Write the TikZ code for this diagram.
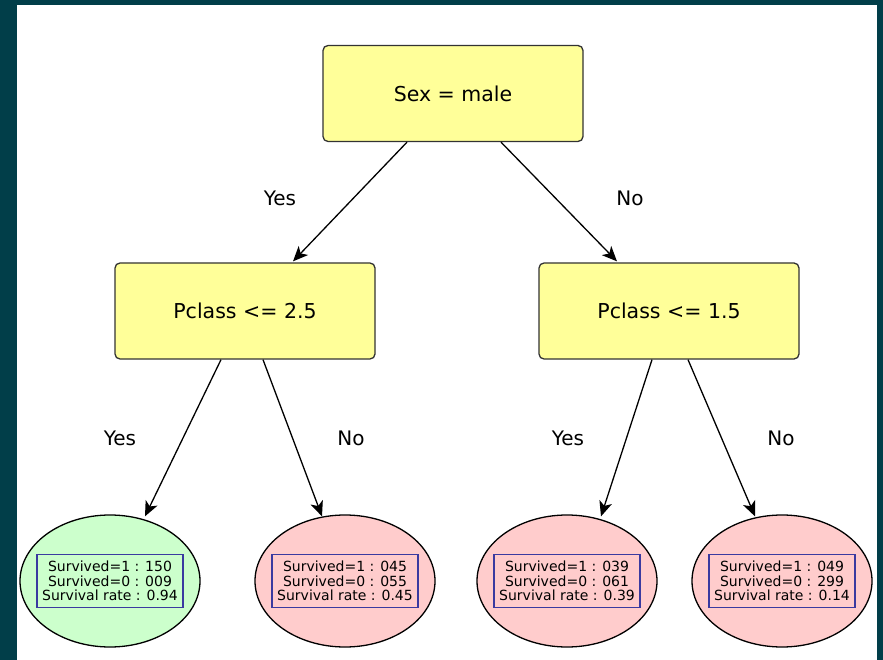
\documentclass[tikz,border=0pt]{standalone}
\usepackage{fontspec}
\setmainfont{DejaVu Sans}
\usetikzlibrary{arrows.meta,shapes.geometric}
\definecolor{frameteal}{HTML}{013E49}
\definecolor{testfill}{HTML}{FFFF99}
\definecolor{leafgreen}{HTML}{CCFFCC}
\definecolor{leafred}{HTML}{FFCCCC}
\definecolor{statblue}{HTML}{3A3AA0}
\begin{document}
\begin{tikzpicture}[x=1pt,y=-1pt,
  test/.style={draw=black!80,fill=testfill,rounded corners=5pt,line width=1.3pt,
    minimum width=260pt,minimum height=96pt,font=\fontsize{20.5}{24}\selectfont},
  leaf/.style={draw=black,ellipse,line width=1.3pt,minimum width=180pt,minimum height=132pt},
  stats/.style={draw=statblue,line width=1.3pt,align=center,inner sep=2pt,
    minimum width=146pt,minimum height=53pt,font=\fontsize{14}{14.6}\selectfont},
  edge/.style={line width=1.3pt,-{Stealth[length=15pt,width=13pt,inset=4pt]}},
  answer/.style={font=\fontsize{20}{24}\selectfont}]
\useasboundingbox (0,0) rectangle (883,660);
% page frame
\fill[frameteal] (0,0) rectangle (883,660);
\fill[white] (17,5) rectangle (877,660);

% split tests
\node[test] (root) at (453,93.5) {Sex = male};
\node[test] (left) at (245,311) {Pclass {<}= 2.5};
\node[test] (right) at (669,311) {Pclass {<}= 1.5};

% leaves
\node[leaf,fill=leafgreen] (l1) at (110,581) {};
\node[leaf,fill=leafred] (l2) at (345,581) {};
\node[leaf,fill=leafred] (l3) at (567,581) {};
\node[leaf,fill=leafred] (l4) at (782,581) {};
\node[stats] (s1) at (l1) {Survived=1 : 150\\Survived=0 : 009\\Survival rate : 0.94};
\node[stats] (s2) at (l2) {Survived=1 : 045\\Survived=0 : 055\\Survival rate : 0.45};
\node[stats] (s3) at (l3) {Survived=1 : 039\\Survived=0 : 061\\Survival rate : 0.39};
\node[stats] (s4) at (l4) {Survived=1 : 049\\Survived=0 : 299\\Survival rate : 0.14};

% attachment points of the branches
\path (root.south) ++(-46,0) coordinate (ra);
\path (left.north) ++(48,-1) coordinate (la);
\path (root.south) ++(48,0) coordinate (rb);
\path (right.north) ++(-52,-1) coordinate (lb);
\path (left.south) ++(-24,0) coordinate (lc);
\path (left.south) ++(18,0) coordinate (ld);
\path (right.south) ++(-17,0) coordinate (rc);
\path (right.south) ++(19,0) coordinate (rd);
\path (l1.north) ++(35,2) coordinate (e1);
\path (l2.north) ++(-23,2) coordinate (e2);
\path (l3.north) ++(34,2) coordinate (e3);
\path (l4.north) ++(-27,2) coordinate (e4);

% branches
\draw[edge] (ra) -- (la);
\draw[edge] (rb) -- (lb);
\draw[edge] (lc) -- (e1);
\draw[edge] (ld) -- (e2);
\draw[edge] (rc) -- (e3);
\draw[edge] (rd) -- (e4);

% branch labels
\node[answer] (y0) at (280,198) {Yes};
\node[answer] (n0) at (630,198) {No};
\node[answer] (y1) at (120,438) {Yes};
\node[answer] (n1) at (351,438) {No};
\node[answer] (y2) at (568,438) {Yes};
\node[answer] (n2) at (781,438) {No};
\end{tikzpicture}
\end{document}
